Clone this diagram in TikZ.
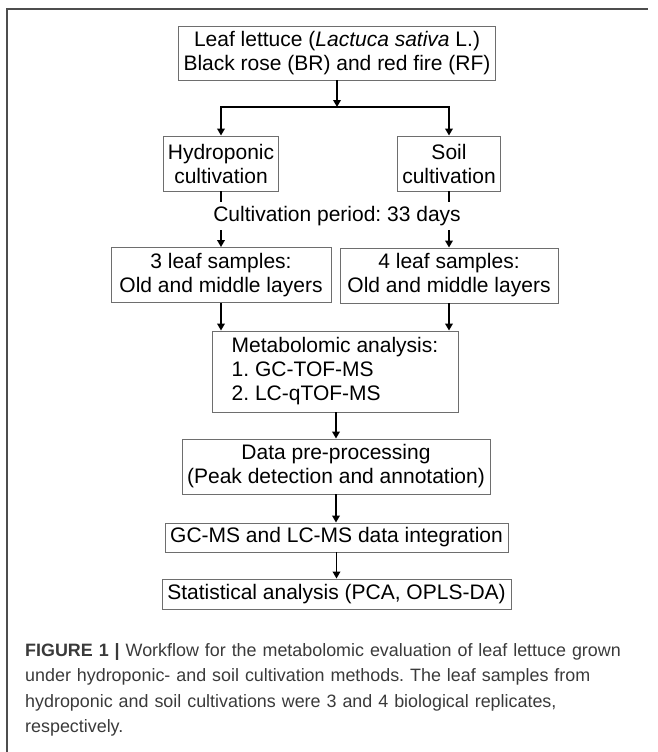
\documentclass[tikz,border=0pt]{standalone}
\usepackage{fontspec}
\setmainfont{Liberation Sans}
\usetikzlibrary{arrows.meta}
\frenchspacing

\definecolor{boxgray}{HTML}{6E6E6E}
\definecolor{framegray}{HTML}{4D4D4D}
\definecolor{capgray}{HTML}{3A3A3A}

\tikzset{
	stepbox/.style={draw=boxgray, line width=0.9pt, align=center, inner sep=0pt,
		font=\fontsize{21}{24}\selectfont},
	flow/.style={-{Triangle[length=7pt,width=7.5pt]}, line width=1.8pt},
	heavy/.style={line width=2.6pt, line join=miter},
	caption/.style={align=left, inner sep=0pt, text width=625pt, text=capgray,
		font=\fontsize{17.9}{25.5}\selectfont},
}

\begin{document}
\begin{tikzpicture}[x=1pt, y=-1pt]
	\useasboundingbox (0,0) rectangle (657,752);
	%\draw[help lines, step=50] (0,0) grid (657,752);

	\draw [framegray, line width=1.4pt] (7,752) -- (7,9) -- (648,9);	% Rahmen

	\node [stepbox, minimum width=317pt, minimum height=54pt] (lettuce) at (337,53)
		{Leaf lettuce (\textit{Lactuca sativa} L.)\\Black rose (BR) and red fire (RF)};
	\coordinate (split) at (337,107);

	\node [stepbox, minimum width=115pt, minimum height=55pt] (hydro) at (221,163.5) {Hydroponic\\cultivation};
	\node [stepbox, minimum width=103pt, minimum height=55pt] (soil) at (449,163.5) {Soil\\cultivation};

	\node [inner sep=0pt, minimum height=28pt, font=\fontsize{21}{24}\selectfont] (period) at (337,216)
		{Cultivation period: 33 days};

	\node [stepbox, minimum width=220pt, minimum height=55pt] (leaf3) at (221,275) {3 leaf samples:\\Old and middle layers};
	\node [stepbox, minimum width=218pt, minimum height=55pt] (leaf4) at (449,275.5) {4 leaf samples:\\Old and middle layers};

	\node [stepbox, minimum width=246pt, minimum height=81pt] (metab) at (335,371.5)
		{\begin{tabular}{@{}l@{}}Metabolomic analysis:\\1. GC-TOF-MS\\2. LC-qTOF-MS\end{tabular}};

	\node [stepbox, minimum width=308pt, minimum height=55pt] (data) at (336,466.5)
		{Data pre-processing\\(Peak detection and annotation)};
	\node [stepbox, minimum width=343pt, minimum height=29pt] (merge) at (336.5,537.5)
		{GC-MS and LC-MS data integration};
	\node [stepbox, minimum width=349pt, minimum height=30pt] (stats) at (336.5,594)
		{Statistical analysis (PCA, OPLS-DA)};

	% Verzweigung oben
	\draw [flow, heavy] (lettuce.south) -- (split);
	\draw [heavy, {Triangle[length=7pt,width=7.5pt]}-{Triangle[length=7pt,width=7.5pt]}]
		(hydro.north) -- (hydro.north |- split) -- (soil.north |- split) -- (soil.north);

	% Anbauzeit
	\draw [line width=1.8pt] (hydro.south) -- (hydro.south |- period.north);
	\draw [line width=1.8pt] (soil.south) -- (soil.south |- period.north);
	\draw [flow] (leaf3.north |- period.south) -- (leaf3.north);
	\draw [flow] (leaf4.north |- period.south) -- (leaf4.north);

	\draw [flow] (leaf3.south) -- (leaf3.south |- metab.north);
	\draw [flow] (leaf4.south) -- (leaf4.south |- metab.north);
	\draw [flow] (data.north |- metab.south) -- (data.north);
	\draw [flow] (data.south) -- (data.south |- merge.north);
	\draw [flow] (merge.south) -- (stats.north);

	\node [caption, anchor=north west] (cap) at (25,643)
		{\textbf{FIGURE 1 |} Workflow for the metabolomic evaluation of leaf lettuce grown\\
		under hydroponic- and soil cultivation methods. The leaf samples from\\
		hydroponic and soil cultivations were 3 and 4 biological replicates,\\
		respectively.};
\end{tikzpicture}
\end{document}
